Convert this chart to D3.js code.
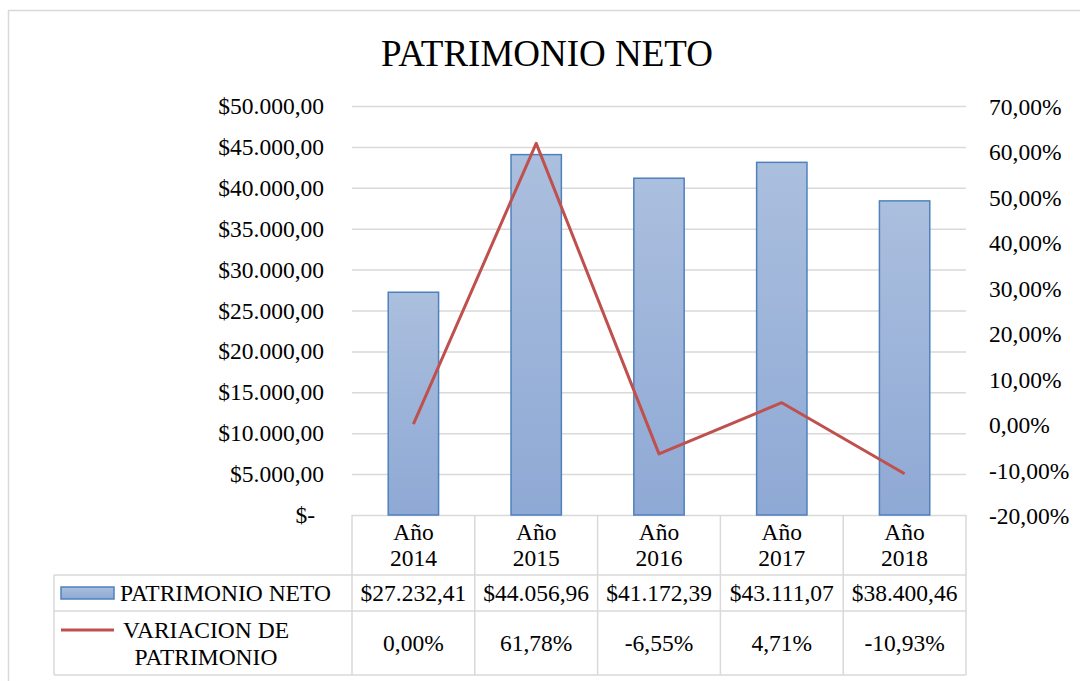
<!DOCTYPE html>
<html>
<head>
<meta charset="utf-8">
<script src="https://cdn.jsdelivr.net/npm/d3@7"></script>
<style>
  body { margin: 0; background: #fff; }
  svg { display: block; font-family: "Liberation Serif", "Times New Roman", serif; }
</style>
</head>
<body>
<svg width="1080" height="681"></svg>
<script>
// data
var years = ["Año 2014", "Año 2015", "Año 2016", "Año 2017", "Año 2018"];
var patrimonio = [27232.41, 44056.96, 41172.39, 43111.07, 38400.46];
var variacion = [0.0, 0.6178, -0.0655, 0.0471, -0.1093];
var leftTicks = [0, 5000, 10000, 15000, 20000, 25000, 30000, 35000, 40000, 45000, 50000];
var rightTicks = [-0.2, -0.1, 0, 0.1, 0.2, 0.3, 0.4, 0.5, 0.6, 0.7];

var svg = d3.select("svg"),
    margin = { top: 106, right: 114, bottom: 166, left: 352 },
    width = +svg.attr("width") - margin.left - margin.right,
    height = +svg.attr("height") - margin.top - margin.bottom;

var grey = "#d9d9d9",
    font = 23.5;

// number formats in spanish style (plain hyphen for minus)
function money(v) {
    var s = d3.format(",.2f")(v);
    return "$" + s.replace(/,/g, "#").replace(".", ",").replace(/#/g, ".").replace("\u2212", "-");
}
function pct(v) {
    return d3.format(".2f")(v * 100).replace(".", ",").replace("\u2212", "-") + "%";
}

// outer chart border (continues off the canvas)
svg.append("rect")
    .attr("x", 8.5).attr("y", 10.5)
    .attr("width", 1100).attr("height", 700)
    .attr("fill", "none").attr("stroke", grey).attr("stroke-width", 1.5);

// gradient for the bars
var grad = svg.append("defs").append("linearGradient")
    .attr("id", "barGrad").attr("x1", 0).attr("y1", 0).attr("x2", 0).attr("y2", 1);
grad.append("stop").attr("offset", "0%").attr("stop-color", "#abbfde");
grad.append("stop").attr("offset", "100%").attr("stop-color", "#8ea9d5");

var x = d3.scaleBand().domain(years).range([0, width]).padding(0),
    yL = d3.scaleLinear().domain([0, 50000]).range([height, 0]),
    yR = d3.scaleLinear().domain([-0.2, 0.7]).range([height, 0]);

var g = svg.append("g")
    .attr("transform", "translate(" + margin.left + "," + margin.top + ")");

// title
svg.append("text")
    .attr("x", 547).attr("y", 66)
    .attr("text-anchor", "middle")
    .attr("font-size", 37)
    .text("PATRIMONIO NETO");

// gridlines
g.append("g")
    .attr("class", "grid")
    .call(d3.axisLeft(yL).tickValues(leftTicks).tickSize(-width).tickFormat(""))
    .call(function (s) {
        s.select(".domain").remove();
        s.selectAll("line").attr("stroke", grey).attr("stroke-width", 1.5);
    });

// left axis
g.append("g")
    .attr("class", "axis axis--y")
    .attr("transform", "translate(-25,0)")
    .call(d3.axisLeft(yL).tickValues(leftTicks).tickSize(0).tickFormat(function (d) {
        return d === 0 ? "$-" : money(d);
    }))
    .call(function (s) {
        s.select(".domain").remove();
        s.selectAll("text")
            .attr("font-size", font)
            .attr("fill", "#000")
            .attr("dx", function (d) { return d === 0 ? -9 : 0; });
    });
g.select(".axis--y").attr("font-family", null);

// right axis
g.append("g")
    .attr("class", "axis axis--r")
    .attr("transform", "translate(" + (width + 20) + ",0)")
    .call(d3.axisRight(yR).tickValues(rightTicks).tickSize(0).tickFormat(pct))
    .call(function (s) {
        s.select(".domain").remove();
        s.selectAll("text").attr("font-size", font).attr("fill", "#000").attr("dy", "0.36em");
    });
g.select(".axis--r").attr("font-family", null);

// bars
var barW = x.bandwidth() * 0.41;
g.selectAll(".bar")
    .data(patrimonio)
    .enter().append("rect")
    .attr("class", "bar")
    .attr("x", function (d, i) { return x(years[i]) + (x.bandwidth() - barW) / 2; })
    .attr("y", function (d) { return yL(d); })
    .attr("width", barW)
    .attr("height", function (d) { return height - yL(d); })
    .attr("fill", "url(#barGrad)")
    .attr("stroke", "#4f81bd")
    .attr("stroke-width", 1.5);

// variation line
var line = d3.line()
    .x(function (d, i) { return x(years[i]) + x.bandwidth() / 2; })
    .y(function (d) { return yR(d); });

g.append("path")
    .datum(variacion)
    .attr("fill", "none")
    .attr("stroke", "#c0504d")
    .attr("stroke-width", 3)
    .attr("stroke-linejoin", "round")
    .attr("d", line);

// data table under the plot
var rowTop = [height, height + 60, height + 96, height + 160],
    tableLeft = 54 - margin.left;

var t = g.append("g").attr("class", "table")
    .attr("stroke", grey).attr("stroke-width", 1.5);

// horizontal lines
t.append("line").attr("x1", tableLeft).attr("x2", width).attr("y1", rowTop[1]).attr("y2", rowTop[1]);
t.append("line").attr("x1", tableLeft).attr("x2", width).attr("y1", rowTop[2]).attr("y2", rowTop[2]);
t.append("line").attr("x1", tableLeft).attr("x2", width).attr("y1", rowTop[3]).attr("y2", rowTop[3]);
// vertical lines
t.append("line").attr("x1", tableLeft).attr("x2", tableLeft).attr("y1", rowTop[1]).attr("y2", rowTop[3]);
t.selectAll(".col")
    .data(years.concat(["end"]))
    .enter().append("line")
    .attr("x1", function (d, i) { return i < years.length ? x(d) : width; })
    .attr("x2", function (d, i) { return i < years.length ? x(d) : width; })
    .attr("y1", rowTop[0]).attr("y2", rowTop[3]);

var cx = function (d, i) { return x(years[i]) + x.bandwidth() / 2; };

// header: year labels on two lines
var head = g.selectAll(".head")
    .data(years)
    .enter().append("text")
    .attr("class", "head")
    .attr("text-anchor", "middle")
    .attr("font-size", font);
head.append("tspan")
    .attr("x", cx).attr("y", rowTop[0] + 25)
    .text(function (d) { return d.split(" ")[0]; });
head.append("tspan")
    .attr("x", cx).attr("y", rowTop[0] + 51)
    .text(function (d) { return d.split(" ")[1]; });

// values row 1
g.selectAll(".v1")
    .data(patrimonio)
    .enter().append("text")
    .attr("text-anchor", "middle")
    .attr("font-size", font)
    .attr("x", cx).attr("y", rowTop[1] + 26)
    .text(money);

// values row 2
g.selectAll(".v2")
    .data(variacion)
    .enter().append("text")
    .attr("text-anchor", "middle")
    .attr("font-size", font)
    .attr("x", cx).attr("y", rowTop[2] + 40)
    .text(pct);

// legend keys and row labels
var lx = 61 - margin.left;
g.append("rect")
    .attr("x", lx).attr("y", rowTop[1] + 12)
    .attr("width", 53).attr("height", 12)
    .attr("fill", "url(#barGrad)").attr("stroke", "#4f81bd").attr("stroke-width", 1.5);
g.append("text")
    .attr("x", 120 - margin.left).attr("y", rowTop[1] + 26)
    .attr("font-size", font)
    .text("PATRIMONIO NETO");

g.append("line")
    .attr("x1", lx).attr("x2", lx + 53)
    .attr("y1", rowTop[2] + 19).attr("y2", rowTop[2] + 19)
    .attr("stroke", "#c0504d").attr("stroke-width", 3);
var lab = g.append("text")
    .attr("text-anchor", "middle")
    .attr("font-size", font);
lab.append("tspan").attr("x", 206 - margin.left).attr("y", rowTop[2] + 27).text("VARIACION DE");
lab.append("tspan").attr("x", 206 - margin.left).attr("y", rowTop[2] + 54).text("PATRIMONIO");
</script>
</body>
</html>
